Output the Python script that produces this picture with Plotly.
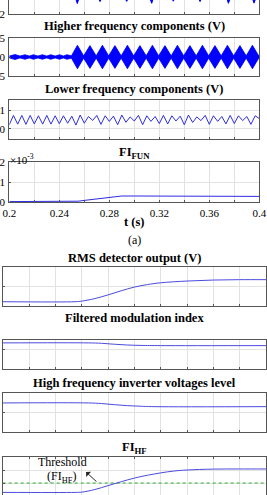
import plotly.graph_objects as go

W, H = 267, 495

# ---------------- data ----------------
time_ticks = [0.2, 0.24, 0.28, 0.32, 0.36, 0.4]
time_tick_labels = ["0.2", "0.24", "0.28", "0.32", "0.36", "0.4"]
time_minor = [0.22, 0.26, 0.30, 0.34, 0.38]

# top (cut-off) panel: downward spikes visible at its lower edge
top_spike_t = [0.2544, 0.2726, 0.2939, 0.3139, 0.3312, 0.3526, 0.3753, 0.3958]
top_spike_min = [-0.93, -0.72, -0.70, -0.90, -0.68, -0.72, -0.90, -0.88]
top_ticks = [-2]
top_tick_labels = ["\u22122"]

# higher frequency components: envelope knots (V)
hf_env_t = [0.2000, 0.2046, 0.2086, 0.2126, 0.2160, 0.2193, 0.2229, 0.2265, 0.2299,
            0.2332, 0.2367, 0.2402, 0.2432, 0.2461, 0.2497,
            0.2545, 0.2595, 0.2645, 0.2695, 0.2745, 0.2795, 0.2845, 0.2895,
            0.2945, 0.2995, 0.3045, 0.3095, 0.3145, 0.3195, 0.3245, 0.3295,
            0.3345, 0.3395, 0.3445, 0.3495, 0.3545, 0.3595, 0.3645, 0.3695,
            0.3745, 0.3795, 0.3845, 0.3895, 0.3945, 0.3995, 0.4000]
hf_env_amp = [0.25, 0.65, 0.25, 0.60, 0.25, 0.60, 0.25, 0.60, 0.25,
              0.60, 0.25, 0.60, 0.25, 0.60, 0.30,
              3.10, 0.30, 3.00, 0.30, 3.10, 0.30, 3.00, 0.30,
              3.10, 0.30, 3.00, 0.30, 3.10, 0.30, 3.00, 0.30,
              3.10, 0.30, 3.00, 0.30, 3.10, 0.30, 3.00, 0.30,
              3.10, 0.30, 3.00, 0.30, 3.10, 0.30, 0.60]
hf_ticks = [-5, 0, 5]
hf_tick_labels = ["\u22125", "0", "5"]

# lower frequency components (V): peaks / troughs
lf_t = [0.2000, 0.2033, 0.2067, 0.2100, 0.2133, 0.2167, 0.2200, 0.2233, 0.2267, 0.2300,
        0.2333, 0.2367, 0.2400, 0.2433, 0.2467, 0.2500, 0.2533, 0.2567, 0.2600, 0.2633,
        0.2667, 0.2700, 0.2733, 0.2767, 0.2800, 0.2833, 0.2867, 0.2900, 0.2933, 0.2967,
        0.3000, 0.3033, 0.3067, 0.3100, 0.3133, 0.3167, 0.3200, 0.3233, 0.3267, 0.3300,
        0.3333, 0.3367, 0.3400, 0.3433, 0.3467, 0.3500, 0.3533, 0.3567, 0.3600, 0.3633,
        0.3667, 0.3700, 0.3733, 0.3767, 0.3800, 0.3833, 0.3867, 0.3900, 0.3933, 0.3967,
        0.4000]
lf_v = [0.22, 0.72, 0.25, 0.72, 0.24, 0.72, 0.26, 0.70, 0.25, 0.72,
        0.25, 0.70, 0.27, 0.70, 0.30, 0.68, 0.20, 0.74, 0.30, 0.66,
        0.45, 0.72, 0.24, 0.70, 0.40, 0.68, 0.22, 0.74, 0.35, 0.64,
        0.42, 0.72, 0.22, 0.70, 0.40, 0.66, 0.28, 0.72, 0.26, 0.70,
        0.42, 0.68, 0.22, 0.74, 0.34, 0.64, 0.44, 0.72, 0.24, 0.70,
        0.40, 0.66, 0.26, 0.72, 0.28, 0.70, 0.44, 0.66, 0.24, 0.70,
        0.55]
lf_ticks = [0, 1]
lf_tick_labels = ["0", "1"]

# FI_FUN (x 10^-3)
fifun_t = [0.200, 0.250, 0.255, 0.260, 0.265, 0.270, 0.275, 0.280, 0.285, 0.290,
           0.300, 0.320, 0.340, 0.360, 0.380, 0.400]
fifun_v = [0.02, 0.02, 0.04, 0.08, 0.12, 0.15, 0.18, 0.24, 0.27, 0.30,
           0.30, 0.30, 0.29, 0.29, 0.28, 0.28]
fifun_ticks = [0, 1, 2]
fifun_tick_labels = ["0", "1", "2"]

# (b) panels
rms_t = [0.200, 0.255, 0.260, 0.270, 0.280, 0.290, 0.300, 0.310, 0.320, 0.340, 0.360, 0.380, 0.400]
rms_v = [0.22, 0.22, 0.25, 0.38, 0.57, 0.78, 0.97, 1.10, 1.19, 1.28, 1.33, 1.35, 1.35]

mi_t = [0.200, 0.265, 0.275, 0.285, 0.295, 0.305, 0.320, 0.400]
mi_v = [1.35, 1.35, 1.33, 1.28, 1.24, 1.22, 1.21, 1.21]

hfl_t = [0.200, 0.265, 0.275, 0.285, 0.295, 0.305, 0.315, 0.400]
hfl_v = [1.49, 1.49, 1.46, 1.40, 1.35, 1.32, 1.30, 1.30]

fihf_t = [0.200, 0.255, 0.260, 0.270, 0.280, 0.290, 0.300, 0.310, 0.320, 0.330, 0.340, 0.360, 0.380, 0.400]
fihf_v = [0.28, 0.28, 0.30, 0.50, 0.80, 1.10, 1.38, 1.60, 1.78, 1.92, 2.00, 2.07, 2.08, 2.08]
fihf_threshold = 1.0

low_ticks = [0, 1, 2]
low_tick_labels = ["0", "1", "2"]

# ---------------- styling ----------------
SERIF = "Liberation Serif"
AX = "rgb(85,85,85)"
GRID = "rgb(226,226,226)"
BLUE = "rgb(0,0,255)"
BLUE_L = "rgb(45,45,225)"
BLUE_B = "rgb(75,75,220)"
GREEN = "rgb(40,175,40)"
TITLE_SIZE = 12.5


def ydom(top_px, bot_px):
    return [max(0.0, 1 - bot_px / H), min(1.0, 1 - top_px / H)]


XTOP = [9.3 / W, 259.3 / W]
XBOT = [2.7 / W, 266.0 / W]

panels = [
    # (x domain, top px, bottom px, y range, y ticks, y labels)
    (XTOP, 0, 14, [-2, -0.56], top_ticks, top_tick_labels),
    (XTOP, 38, 76, [-5, 5], hf_ticks, hf_tick_labels),
    (XTOP, 100, 139, [-0.55, 1.55], lf_ticks, lf_tick_labels),
    (XTOP, 162, 202, [0, 2], fifun_ticks, fifun_tick_labels),
    (XBOT, 267, 306, [0, 2], low_ticks, low_tick_labels),
    (XBOT, 340, 369, [0, 1.5], [0, 1], ["0", "1"]),
    (XBOT, 393, 432, [0, 2], low_ticks, low_tick_labels),
    (XBOT, 457, 495, [0.08, 3.0], low_ticks, low_tick_labels),
]

fig = go.Figure()
layout = dict(
    template="none",
    width=W, height=H, margin=dict(l=0, r=0, t=0, b=0, pad=0),
    paper_bgcolor="white", plot_bgcolor="white", showlegend=False,
    font=dict(family=SERIF, size=11, color="black"),
)

for i, (xd, tp, bp, yr, yt, ytl) in enumerate(panels, start=1):
    sfx = "" if i == 1 else str(i)
    xa = dict(
        domain=xd, range=[0.2, 0.4], anchor="y" + sfx, automargin=False,
        showline=True, linecolor=AX, linewidth=1, mirror=True,
        showgrid=True, gridcolor=GRID, gridwidth=1, zeroline=False,
        tickmode="array", tickvals=time_ticks, ticktext=time_tick_labels,
        ticks="inside", ticklen=2, tickcolor=AX,
        minor=dict(tickvals=time_minor, showgrid=True, gridcolor=GRID, gridwidth=1,
                   ticks="inside", ticklen=2, tickcolor=AX),
        showticklabels=False,
        tickfont=dict(family=SERIF, size=11, color="black"),
    )
    ya = dict(
        domain=ydom(tp, bp), range=yr, anchor="x" + sfx, automargin=False,
        showline=True, linecolor=AX, linewidth=1, mirror=True,
        showgrid=True, gridcolor=GRID, gridwidth=1, zeroline=False,
        tickmode="array", tickvals=yt, ticktext=ytl,
        ticks="inside", ticklen=2, tickcolor=AX,
        tickfont=dict(family=SERIF, size=11, color="black"),
        ticklabelstandoff=1,
    )
    if i == 1:
        xa["mirror"] = False
    if i == 4:
        xa["showticklabels"] = True
        xa["ticklabelstandoff"] = 1
    if i == 8:
        xa["side"] = "top"
        xa["mirror"] = False
    layout["xaxis" + sfx] = xa
    layout["yaxis" + sfx] = ya

# panel 1: spikes
sx, sy = [], []
for t, m in zip(top_spike_t, top_spike_min):
    sx += [t - 0.0016, t, t + 0.0016, None]
    sy += [-0.3, m, -0.3, None]
fig.add_trace(go.Scatter(x=sx, y=sy, mode="lines", fill="toself", fillcolor=BLUE,
                         line=dict(color=BLUE, width=1), xaxis="x", yaxis="y"))

# panel 2: higher frequency components (filled envelope)
ex = hf_env_t + hf_env_t[::-1]
ey = hf_env_amp + [-a for a in hf_env_amp[::-1]]
fig.add_trace(go.Scatter(x=ex, y=ey, mode="lines", fill="toself", fillcolor=BLUE,
                         line=dict(color=BLUE, width=0.8), xaxis="x2", yaxis="y2"))

# panel 3
fig.add_trace(go.Scatter(x=lf_t, y=lf_v, mode="lines", line=dict(color=BLUE_L, width=1),
                         xaxis="x3", yaxis="y3"))
# panel 4
fig.add_trace(go.Scatter(x=fifun_t, y=fifun_v, mode="lines", line=dict(color=BLUE_L, width=1),
                         xaxis="x4", yaxis="y4"))
# panels 5-8
fig.add_trace(go.Scatter(x=rms_t, y=rms_v, mode="lines", line=dict(color=BLUE_B, width=1),
                         line_shape="spline", xaxis="x5", yaxis="y5"))
fig.add_trace(go.Scatter(x=mi_t, y=mi_v, mode="lines", line=dict(color=BLUE_B, width=1),
                         line_shape="spline", xaxis="x6", yaxis="y6"))
fig.add_trace(go.Scatter(x=hfl_t, y=hfl_v, mode="lines", line=dict(color=BLUE_B, width=1),
                         line_shape="spline", xaxis="x7", yaxis="y7"))
fig.add_trace(go.Scatter(x=[0.2, 0.4], y=[fihf_threshold, fihf_threshold], mode="lines",
                         line=dict(color=GREEN, width=1, dash="dot"), xaxis="x8", yaxis="y8"))
fig.add_trace(go.Scatter(x=fihf_t, y=fihf_v, mode="lines", line=dict(color=BLUE_B, width=1),
                         line_shape="spline", xaxis="x8", yaxis="y8"))


def ann(text, xpx, ypx, size=TITLE_SIZE, bold=True, xanchor="center"):
    return dict(text=("<b>%s</b>" % text) if bold else text,
                x=xpx / W, y=1 - ypx / H, xref="paper", yref="paper",
                xanchor=xanchor, yanchor="middle", showarrow=False,
                font=dict(family=SERIF, size=size, color="black"))


annotations = [
    ann("Higher frequency components (V)", 134.3, 26),
    ann("Lower frequency components (V)", 134.3, 89),
    ann("FI<sub>FUN</sub>", 134.3, 153),
    ann("t (s)", 134.3, 222),
    ann("(a)", 134.3, 240, size=12, bold=False),
    ann("RMS detector output (V)", 134.3, 258),
    ann("Filtered modulation index", 134.3, 318),
    ann("High frequency inverter voltages level", 134.3, 383),
    ann("FI<sub>HF</sub>", 134.3, 448),
    ann("\u00d710<sup>-3</sup>", 8, 159, size=11, bold=False, xanchor="left"),
    ann("Threshold", 62.5, 462, size=12, bold=False),
    ann("(FI<sub>HF</sub>)", 61.5, 477, size=12, bold=False),
    dict(x=86 / W, y=1 - 472 / H, xref="paper", yref="paper", text="",
         showarrow=True, ax=12, ay=11, arrowhead=1, arrowsize=1.2, arrowwidth=1,
         arrowcolor="rgb(40,40,40)"),
]
layout["annotations"] = annotations
fig.update_layout(**layout)

fig.write_html("out.html")
